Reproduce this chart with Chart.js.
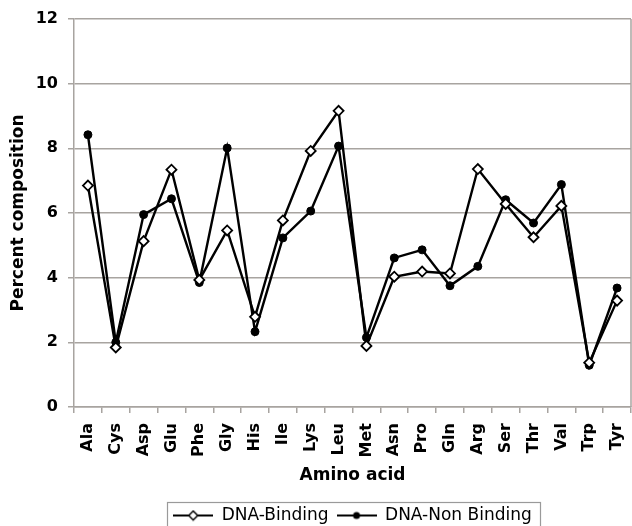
<!DOCTYPE html>
<html>
<head>
<meta charset="utf-8">
<script src="https://cdn.jsdelivr.net/npm/chart.js@4.4.1/dist/chart.umd.min.js"></script>
<style>
html,body{margin:0;padding:0;background:#fff;}
#wrap{width:632px;height:526px;position:relative;}
</style>
</head>
<body>
<div id="wrap"><canvas id="c" width="632" height="526"></canvas></div>
<script>
const categories = ["Ala","Cys","Asp","Glu","Phe","Gly","His","Ile","Lys","Leu","Met","Asn","Pro","Gln","Arg","Ser","Thr","Val","Trp","Tyr"];
const dnaBinding = [6.85,1.84,5.13,7.34,3.93,5.46,2.79,5.77,7.92,9.16,1.89,4.03,4.19,4.13,7.36,6.28,5.25,6.22,1.37,3.29];
const dnaNonBinding = [8.42,2.0,5.95,6.44,3.85,8.01,2.33,5.23,6.06,8.07,2.15,4.61,4.86,3.75,4.35,6.41,5.69,6.88,1.29,3.68];
const yTicks = [0,2,4,6,8,10,12];

const FONT = "'DejaVu Sans', Verdana, sans-serif";
const GRID = '#a8a4a0';

function legendIcon(filled){
  const c = document.createElement('canvas');
  c.width = 40; c.height = 12;
  const g = c.getContext('2d');
  g.strokeStyle = '#000'; g.lineWidth = 2;
  g.beginPath(); g.moveTo(0,6); g.lineTo(40,6); g.stroke();
  if (filled){
    g.fillStyle='#000'; g.beginPath(); g.arc(20,6,3.5,0,Math.PI*2); g.fill();
  } else {
    g.fillStyle='#fff'; g.lineWidth=1.5;
    g.beginPath(); g.moveTo(20,1.5); g.lineTo(24.5,6); g.lineTo(20,10.5); g.lineTo(15.5,6); g.closePath(); g.fill(); g.stroke();
  }
  return c;
}

const framePlugin = {
  id:'frame',
  afterDraw(chart){
    const ctx = chart.ctx, a = chart.chartArea;
    ctx.save();
    ctx.strokeStyle = GRID; ctx.lineWidth = 1.5;
    ctx.beginPath(); ctx.moveTo(a.right, a.top); ctx.lineTo(a.right, a.bottom); ctx.stroke();
    const lg = chart.legend;
    if (lg && lg.legendHitBoxes && lg.legendHitBoxes.length){
      const hb = lg.legendHitBoxes;
      const x0 = Math.min(...hb.map(h=>h.left)), x1 = Math.max(...hb.map(h=>h.left+h.width));
      const y0 = Math.min(...hb.map(h=>h.top)), y1 = Math.max(...hb.map(h=>h.top+h.height));
      const cy = (y0+y1)/2;
      ctx.strokeStyle = '#9a9a9a'; ctx.lineWidth = 1.2;
      ctx.strokeRect(Math.round(x0-6)+0.5, Math.round(cy-14)+0.5, Math.round(x1-x0+14), 40);
    }
    ctx.restore();
  }
};

new Chart(document.getElementById('c'), {
  type:'line',
  data:{
    labels: categories,
    datasets:[
      {label:'DNA-Binding', data:dnaBinding, borderColor:'#000', borderWidth:2.4, pointStyle:'rectRot', pointRadius:5, pointBackgroundColor:'#fff', pointBorderColor:'#000', pointBorderWidth:1.8, tension:0, fill:false},
      {label:'DNA-Non Binding', data:dnaNonBinding, borderColor:'#000', borderWidth:2.4, pointStyle:'circle', pointRadius:4, pointBackgroundColor:'#000', pointBorderColor:'#000', pointBorderWidth:1, tension:0, fill:false}
    ]
  },
  options:{
    responsive:false,
    animation:false,
    layout:{autoPadding:false, padding:{top:19,right:1,left:0,bottom:-8}},
    plugins:{
      legend:{
        position:'bottom',
        fullSize:false,
        labels:{
          usePointStyle:true,
          pointStyleWidth:40,
          boxHeight:12,
          font:{family:FONT,size:17},
          color:'#000',
          padding:8,
          generateLabels(chart){
            return chart.data.datasets.map((d,i)=>({
              text:d.label, pointStyle:legendIcon(i===1), fillStyle:'#000', strokeStyle:'#000', lineWidth:0, hidden:false, datasetIndex:i
            }));
          }
        }
      },
      tooltip:{enabled:false}
    },
    scales:{
      x:{
        offset:true,
        grid:{offset:true, drawOnChartArea:false, drawTicks:true, tickLength:6, color:GRID, lineWidth:1.5},
        border:{color:GRID, width:1.5},
        ticks:{minRotation:90, maxRotation:90, autoSkip:false, color:'#000', font:{family:FONT,size:16,weight:'bold'}, padding:10},
        title:{display:true, text:'Amino acid', color:'#000', font:{family:FONT,size:17,weight:'bold'}, padding:{top:4,bottom:13}},
        afterFit(s){ s.height = 92; s.paddingLeft = 0; s.paddingRight = 0; }
      },
      y:{
        min:0, max:12,
        afterBuildTicks(s){ s.ticks = yTicks.map(v=>({value:v})); },
        grid:{color:GRID, lineWidth:1.5, tickLength:6},
        border:{color:GRID, width:1.5},
        ticks:{color:'#000', font:{family:FONT,size:16,weight:'bold'}, padding:10},
        title:{display:true, text:'Percent composition', color:'#000', font:{family:FONT,size:17,weight:'bold'}, padding:{top:8,bottom:0}},
        afterFit(s){ s.width = 74; s.paddingTop = 0; s.paddingBottom = 0; }
      }
    }
  },
  plugins:[framePlugin]
});
</script>
</body>
</html>
